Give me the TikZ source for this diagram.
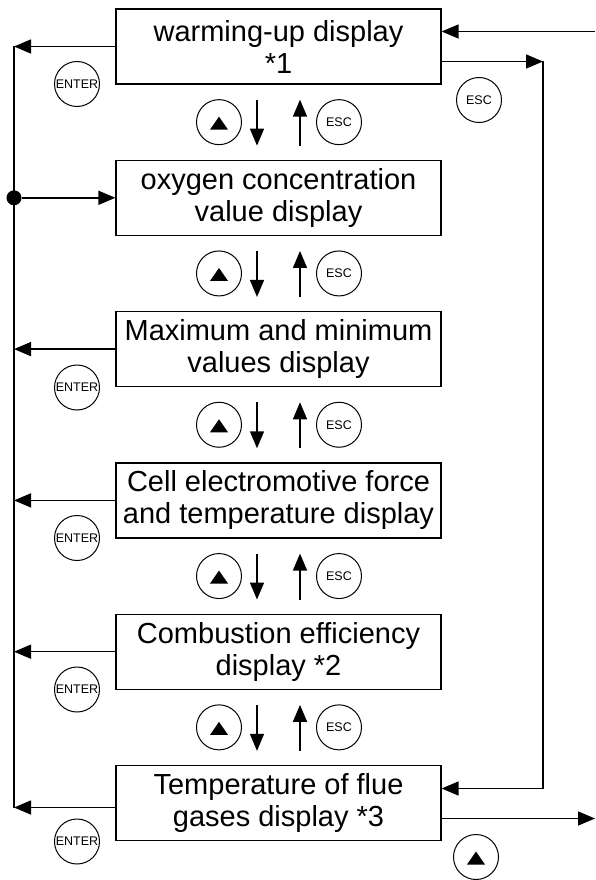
\documentclass[tikz,border=0pt]{standalone}
\usepackage{fontspec}
\setmainfont{Liberation Sans}
\usetikzlibrary{arrows.meta}
\begin{document}
\begin{tikzpicture}[x=1pt,y=-1pt,
  box/.style={draw, line width=1.2pt, minimum width=325pt, minimum height=75pt, inner sep=0pt, align=center, font=\fontsize{29}{32}\selectfont},
  key/.style={draw, circle, line width=1pt, minimum size=45pt, inner sep=0pt, font=\fontsize{12.5}{12.5}\selectfont},
  upkey/.style={key, path picture={\fill ([shift={(-9pt,-7.5pt)}]path picture bounding box.center) -- ++(18pt,0pt) -- ++(-9pt,13pt) -- cycle;}},
  conn/.style={line width=1.5pt, -{Triangle[length=17pt,width=14pt]}},
  plain/.style={line width=1.5pt},
  dotnode/.style={circle, fill, minimum size=15pt, inner sep=0pt}
]
\useasboundingbox (0,0) rectangle (595,880);

\node[box] (b1) at (278.5,46.5)  {warming-up display\\*1};
\node[box] (b2) at (278.5,197.8) {oxygen concentration\\value display};
\node[box] (b3) at (278.5,349.1) {Maximum and minimum\\values display};
\node[box] (b4) at (278.5,500.4) {Cell electromotive force\\and temperature display};
\node[box] (b5) at (278.5,651.7) {Combustion efficiency\\display *2};
\node[box] (b6) at (278.5,803)   {Temperature of flue\\gases display *3};

% up/down between boxes
\foreach \g/\n in {122.15/1,273.45/2,424.75/3,576.05/4,727.35/5}{
  \node[upkey] (u\n) at (219,\g) {};
  \node[key] (e\n) at (339,\g) {ESC};
  \coordinate (ds\n) at (257,\g-22.5);
  \coordinate (de\n) at (257,\g+23.5);
  \coordinate (us\n) at (300,\g+23.5);
  \coordinate (ue\n) at (300,\g-22.5);
  \draw[conn] (ds\n) -- (de\n);
  \draw[conn] (us\n) -- (ue\n);
}

% left bus
\coordinate (L1) at (14,46.5);
\coordinate (L3) at (14,349.1);
\coordinate (L4) at (14,500.4);
\coordinate (L5) at (14,651.7);
\coordinate (L6) at (14,807.5);
\node[dotnode] (dot) at (14,197.8) {};
\draw[plain] (L1) -- (L6);
\draw[conn] (b1.west) -- (L1);
\draw[conn] (dot) -- (b2.west);
\draw[conn] (b3.west) -- (L3);
\draw[conn] (b4.west) -- (L4);
\draw[conn] (b5.west) -- (L5);
\draw[conn] (b6.west |- L6) -- (L6);

\node[key] (en1) at (77,84) {ENTER};
\node[key] (en3) at (77,387.5) {ENTER};
\node[key] (en4) at (77,538) {ENTER};
\node[key] (en5) at (77,689.5) {ENTER};
\node[key] (en6) at (77,841.5) {ENTER};

% right side
\coordinate (inR) at (595,31.5);
\coordinate (r1) at (543,61.5);
\coordinate (r2) at (543,788.5);
\coordinate (outR) at (595,818.5);
\draw[conn] (inR) -- (b1.east |- inR);
\draw[conn] (b1.east |- r1) -- (r1);
\draw[plain] (r1) -- (r2);
\draw[conn] (r2) -- (b6.east |- r2);
\draw[conn] (b6.east |- outR) -- (outR);
\node[key] (escR) at (479,100) {ESC};
\node[upkey] (upR) at (476,857) {};
\end{tikzpicture}
\end{document}
